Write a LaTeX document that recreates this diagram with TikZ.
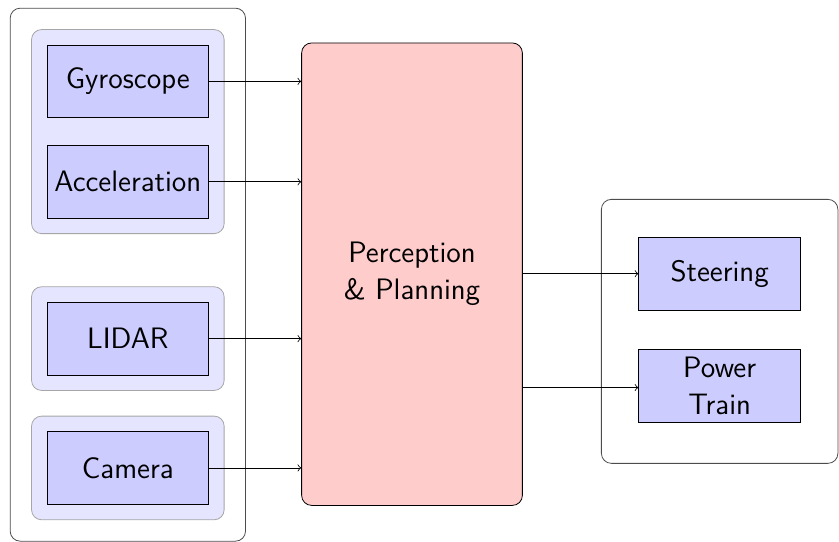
\documentclass[tikz,border=0pt]{standalone}
\usetikzlibrary{fit,backgrounds}

\tikzset{
  txt/.style={font=\sffamily\fontsize{14.8}{18.5}\selectfont, align=center},
  unit/.style={txt, draw, fill=blue!20, minimum width=81pt, minimum height=36.5pt},
  core/.style={txt, draw, fill=red!20, rounded corners=5pt, minimum width=110.5pt, minimum height=231.5pt},
  group/.style={draw=black!35, fill=blue!10, rounded corners=5pt, inner sep=7.5pt},
  frame/.style={draw=black!70, rounded corners=5pt},
}

\begin{document}
\begin{tikzpicture}[x=0.5pt, y=-0.5pt]
 \useasboundingbox (0,0) rectangle (840,542);

 % sensors
 \node[unit] (gyro)  at (128,81.5)  {Gyroscope};
 \node[unit] (accel) at (128,182)   {Acceleration};
 \node[unit] (lidar) at (128,339)   {LIDAR};
 \node[unit] (cam)   at (128,468.5) {Camera};

 % planner
 \node[core] (plan) at (412.5,274.5) {Perception\\\& Planning};

 % actuators
 \node[unit] (steer) at (720.5,274)   {Steering};
 \node[unit] (power) at (720.5,386.5) {Power\\Train};

 \begin{scope}[on background layer]
  \node[group, fit=(gyro)(accel)] (imu) {};
  \node[group, fit=(lidar)] (lidargrp) {};
  \node[group, fit=(cam)] (camgrp) {};
  \node[frame, inner sep=10.5pt, fit=(imu)(lidargrp)(camgrp)] (sensors) {};
  \node[frame, inner xsep=18.5pt, inner ysep=19.5pt, yshift=-0.75pt, fit=(steer)(power)] (actuators) {};
 \end{scope}

 \draw[->] (gyro.east)  -- (gyro.east -| plan.west);
 \draw[->] (accel.east) -- (accel.east -| plan.west);
 \draw[->] (lidar.east) -- (lidar.east -| plan.west);
 \draw[->] (cam.east)   -- (cam.east -| plan.west);
 \draw[->] (plan.east |- steer.west) -- (steer.west);
 \draw[->] (power.west -| plan.east) ++(0,1.5) -- ([yshift=-0.75pt]power.west);
\end{tikzpicture}
\end{document}
